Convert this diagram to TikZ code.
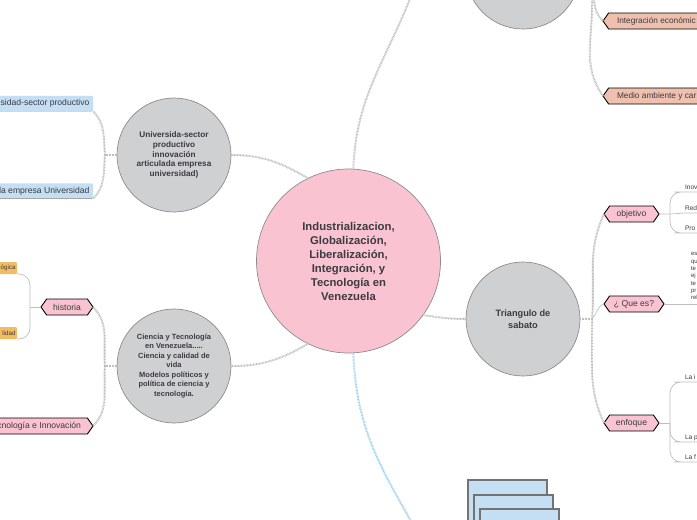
\documentclass[tikz,border=0pt]{standalone}
\usepackage{fontspec}
\setmainfont{Liberation Sans}
\usetikzlibrary{shapes.symbols}
\definecolor{txtdark}{HTML}{3B3B40}
\definecolor{rosa}{HTML}{FAC3D2}
\definecolor{gris}{HTML}{CFD0D2}
\definecolor{azul}{HTML}{C4DEF3}
\definecolor{azulrama}{HTML}{9CCFEF}
\definecolor{salmon}{HTML}{F0C0AE}
\definecolor{naranja}{HTML}{F2BC62}
\newcommand{\letra}{\fontsize{8.6}{10}\selectfont}
\newcommand{\letrados}{\fontsize{8.3}{10}\selectfont}
\begin{document}
\begin{tikzpicture}[x=1pt,y=-1pt,
	bubble/.style={circle,draw=gray!90,line width=.7pt,fill=gris,text=txtdark,align=flush center,inner sep=0pt,outer sep=0pt,minimum size=114pt},
	hexa/.style={signal,signal to=west and east,signal pointer angle=110,draw=black,line width=.9pt,fill=rosa,inner sep=0pt,outer sep=0pt,minimum height=16pt,font=\letra,text=txtdark},
	tagazul/.style={rectangle,rounded corners=1pt,fill=azul,inner sep=0pt,outer sep=0pt,minimum height=15.5pt,minimum width=120pt,text width=113pt,align=flush right,anchor=east,font=\letra,text=txtdark,
		path picture={\draw[gray!70,line width=.8pt] (path picture bounding box.south west) -- (path picture bounding box.south east);}},
	tagnaranja/.style={rectangle,rounded corners=1pt,fill=naranja,inner sep=0pt,outer sep=0pt,minimum height=12pt,minimum width=20pt,text width=17pt,align=flush right,anchor=east,font=\fontsize{6.2}{7}\selectfont,text=txtdark},
	leaf/.style={anchor=south west,inner sep=0pt,outer sep=0pt,minimum height=9pt,text width=16pt,align=flush left,font=\fontsize{6.6}{7}\selectfont,text=txtdark},
	hoja/.style={rectangle,draw=gray!90!black,line width=1.6pt,fill=azul,minimum width=79pt,minimum height=70pt,anchor=north west,inner sep=0pt},
	rama/.style={gray!50,line width=2pt,dash pattern=on .8pt off .7pt},
	ramaazul/.style={azulrama,line width=2pt,dash pattern=on .8pt off .7pt},
	linea/.style={gray!50,line width=.7pt,rounded corners=11pt}]
\useasboundingbox (0,0) rectangle (697,520);
\clip (0,0) rectangle (697,520);

\node[bubble,minimum size=184pt,fill=rosa,font=\fontsize{11.3}{14}\selectfont\bfseries] (central) at (348.5,261)
	{Industrializacion,\\Globalización,\\Liberalización,\\Integración, y\\Tecnología en\\Venezuela};
\node[bubble,font=\fontsize{8.2}{9.8}\selectfont\bfseries] (uni) at (174,155)
	{Universida-sector\\productivo\\innovación\\articulada empresa\\universidad)};
\node[bubble,font=\fontsize{7.5}{9.5}\selectfont\bfseries] (ciencia) at (174,366)
	{Ciencia y Tecnología\\en Venezuela.....\\Ciencia y calidad de\\vida\\Modelos políticos y\\política de ciencia y\\tecnología.};
\node[bubble,font=\fontsize{9.2}{12}\selectfont\bfseries] (sabato) at (523,319) {Triangulo de\\sabato};
\node[bubble] (arriba) at (523,-28) {};

% nudos fuera del cuadro
\coordinate (salearriba) at (410,-1);
\coordinate (saleabajo) at (411,521);
\coordinate (tope) at (594,-1);
\coordinate (tope2) at (592,-1);
\coordinate (brazouni) at (105,155);
\coordinate (brazociencia) at (105,366);
\coordinate (brazohist) at (30,307);
\coordinate (brazosab) at (592,319);
\coordinate (brazoobj) at (670,214);
\coordinate (brazoenf) at (670,423);

% hojas izquierda
\node[tagazul] (uniuno) at (93,103.5) {sidad-sector productivo};
\node[tagazul] (unidos) at (93,191) {da empresa Universidad};
\node[hexa,minimum width=52pt] (historia) at (67,307) {historia};
\node[hexa,anchor=east,minimum width=110pt,text width=86pt,align=flush right] (tecno) at (93,426) {cnología e Innovación};
\node[tagnaranja] (histuno) at (17,268) {ógica};
\node[tagnaranja] (histdos) at (17,333) {lidad};

% hojas derecha
\node[hexa,minimum width=55pt] (objetivo) at (631.5,214) {objetivo};
\node[hexa,minimum width=60pt] (quees) at (634,304) {¿ Que es?};
\node[hexa,minimum width=55pt] (enfoque) at (631.5,423) {enfoque};
\node[hexa,anchor=west,fill=salmon,minimum width=130pt,text width=102pt,align=flush left,font=\letrados] (integra) at (603,21) {Integración económic};
\node[hexa,anchor=west,fill=salmon,minimum width=130pt,text width=102pt,align=flush left,font=\letrados] (medio) at (603,96) {Medio ambiente y car};
\node[leaf] (inov) at (685,192) {Inov};
\node[leaf] (redi) at (685,213) {Redi};
\node[leaf] (prom) at (685,233) {Pro};
\node[leaf] (lai) at (685,382) {La i};
\node[leaf] (lap) at (685,442) {La p};
\node[leaf] (laf) at (685,462) {La f};
\node[anchor=south west,inner sep=0pt,outer sep=0pt,text width=20pt,align=flush left,font=\fontsize{6}{7.35}\selectfont,text=txtdark] (texto) at (691,300)
	{es\\qu\\te\\ej\\te\\pr\\rel};

% hojas apiladas
\node[hoja] (pila) at (467,479) {};
\node[hoja] (pilados) at (473,494) {};
\node[hoja] (pilatres) at (479,508) {};

% ramas punteadas
\draw[rama] (central.116) to[out=150,in=0] (uni.east);
\draw[rama] (central.244) to[out=210,in=0] (ciencia.east);
\draw[rama] (central.-36) to[out=-8,in=180] (sabato.west);
\draw[rama] (central.87) to[out=88,in=248] (salearriba);
\draw[ramaazul] (central.-87) to[out=-88,in=120] (saleabajo);

\draw[rama] (uni.west) -- (brazouni);
\draw[rama] (brazouni) to[out=95,in=-45] (uniuno.south east);
\draw[rama] (brazouni) to[out=-95,in=45] (unidos.south east);
\draw[rama] (ciencia.west) -- (brazociencia);
\draw[rama] (brazociencia) to[out=95,in=-45] (historia.east);
\draw[rama] (brazociencia) to[out=-95,in=45] (tecno.east);

\draw[rama] (sabato.east) -- (brazosab);
\draw[rama] (brazosab) to[out=85,in=-115] (objetivo.west);
\draw[linea,rounded corners=0pt] (brazosab) to[out=45,in=195] (quees.west);
\draw[rama] (brazosab) to[out=-88,in=115] (enfoque.west);
\draw[rama] (tope) to[out=-85,in=135] (integra.west);
\draw[rama] (tope2) to[out=-88,in=125] (medio.west);

% lineas finas
\draw[linea,rounded corners=0pt] (objetivo.east) -- (brazoobj) -- (redi.south west) -- (redi.south east);
\draw[linea] (brazoobj) |- (inov.south west) -- (inov.south east);
\draw[linea] (brazoobj) |- (prom.south west) -- (prom.south east);
\draw[linea,rounded corners=0pt] (enfoque.east) -- (brazoenf);
\draw[linea] (brazoenf) |- (lai.south west) -- (lai.south east);
\draw[linea] (brazoenf) |- (lap.south west) -- (lap.south east);
\draw[linea] (brazoenf) |- (laf.south west) -- (laf.south east);
\draw[linea,rounded corners=0pt] (quees.east) -- (texto.south east |- quees.east);
\draw[linea,rounded corners=0pt] (historia.west) -- (brazohist);
\draw[linea] (brazohist) |- (histuno.south east);
\draw[linea] (brazohist) |- (histdos.south east);
\end{tikzpicture}
\end{document}
